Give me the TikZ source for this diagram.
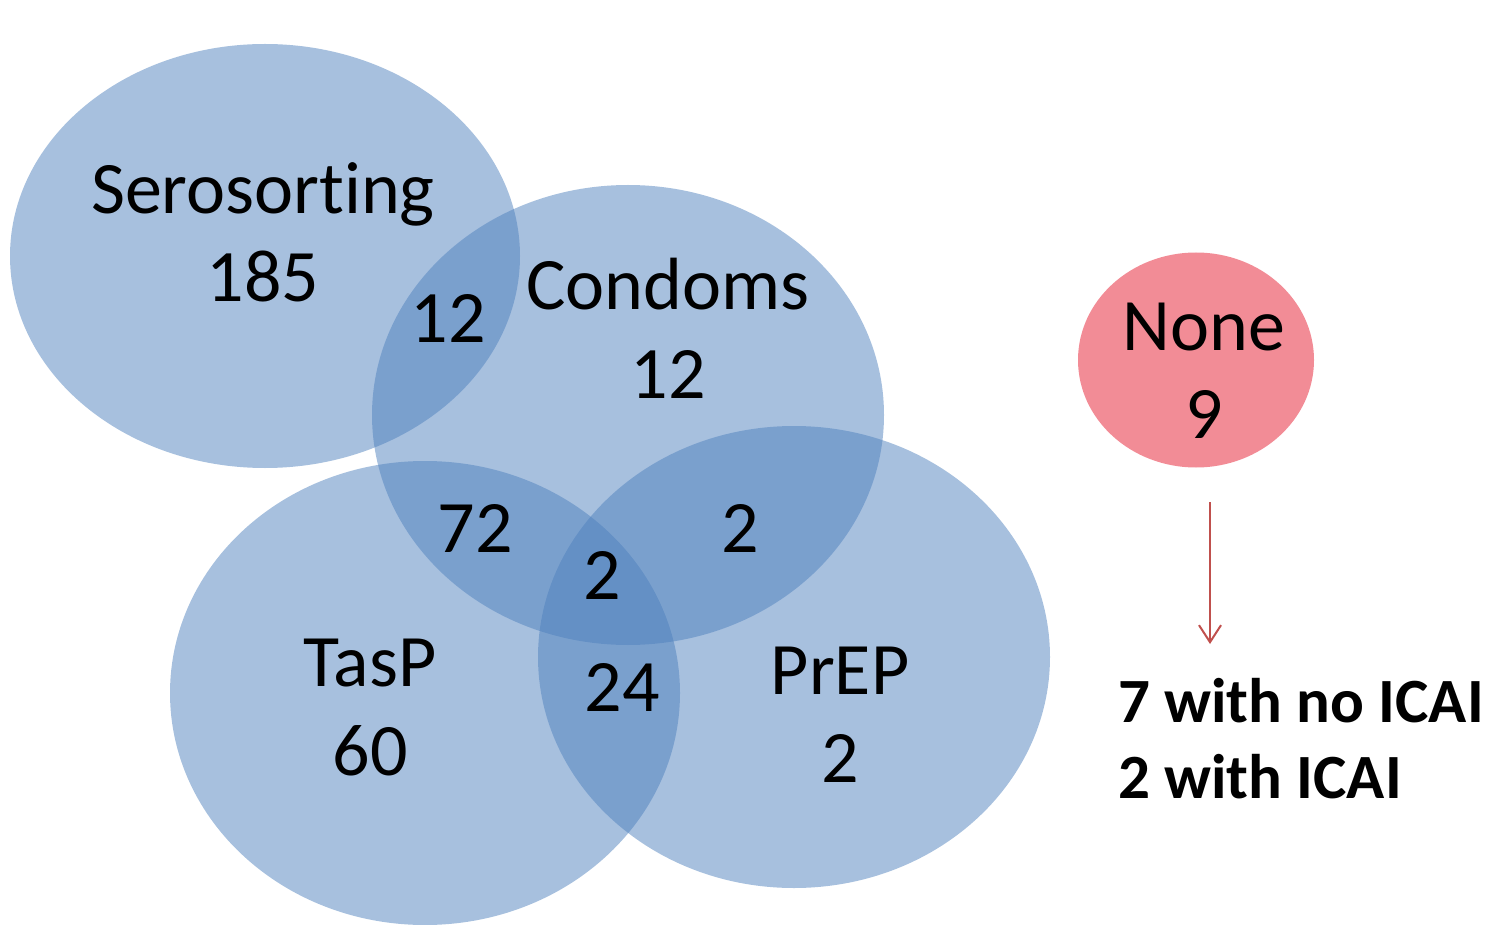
\documentclass[tikz,border=0pt]{standalone}
\usepackage{fontspec}
\setmainfont{Carlito}[Ligatures={NoCommon}]
\usetikzlibrary{shapes.geometric,arrows.meta}
\definecolor{vennblue}{HTML}{4F81BD}
\definecolor{nonepink}{HTML}{F28C96}
\definecolor{arrred}{HTML}{C0504D}
\tikzset{
  set/.style={ellipse, inner sep=0pt, fill=vennblue, fill opacity=0.5},
  lbl/.style={anchor=base, inner sep=0pt, font=\fontsize{74}{88}\selectfont},
  res/.style={anchor=base west, inner sep=0pt, font=\fontsize{63}{76}\selectfont\bfseries},
}
\begin{document}
\begin{tikzpicture}[x=1pt,y=-1pt]
\useasboundingbox (0,0) rectangle (1502,925);
% sets
\node[set, minimum width=510pt, minimum height=424pt] (sero) at (265,256) {};
\node[set, minimum width=512pt, minimum height=460pt] (cond) at (628,415) {};
\node[set, minimum width=510pt, minimum height=464pt] (tasp) at (425,693) {};
\node[set, minimum width=512pt, minimum height=462pt] (prep) at (794,657) {};
\node[ellipse, inner sep=0pt, fill=nonepink, minimum width=236pt, minimum height=215pt] (none) at (1196,360) {};
% labels
\node[lbl] (serot) at (263,214) {Serosorting};
\node[lbl] (seron) at (263,302) {185};
\node[lbl] (sc) at (448,342) {12};
\node[lbl] (condt) at (668,310) {Condoms};
\node[lbl] (condn) at (668,398) {12};
\node[lbl] (ct) at (475,552) {72};
\node[lbl] (cp) at (740,552) {2};
\node[lbl] (ctp) at (602,599) {2};
\node[lbl] (taspt) at (370,686) {TasP};
\node[lbl] (taspn) at (370,775) {60};
\node[lbl] (tp) at (622,711) {24};
\node[lbl] (prept) at (840,694) {PrEP};
\node[lbl] (prepn) at (840,782) {2};
\node[lbl] (nonet) at (1204,350) {None};
\node[lbl] (nonen) at (1204,438) {9};
% result
\node[res] (r1) at (1118,722) {7 with no ICAI};
\node[res] (r2) at (1118,798) {2 with ICAI};
\coordinate (as) at (1210,502);
\coordinate (ae) at (1210,644);
\draw[arrred, line width=2pt, -{Straight Barb[length=17pt,width=22pt,line width=2pt]}] (as) -- (ae);
\end{tikzpicture}
\end{document}
